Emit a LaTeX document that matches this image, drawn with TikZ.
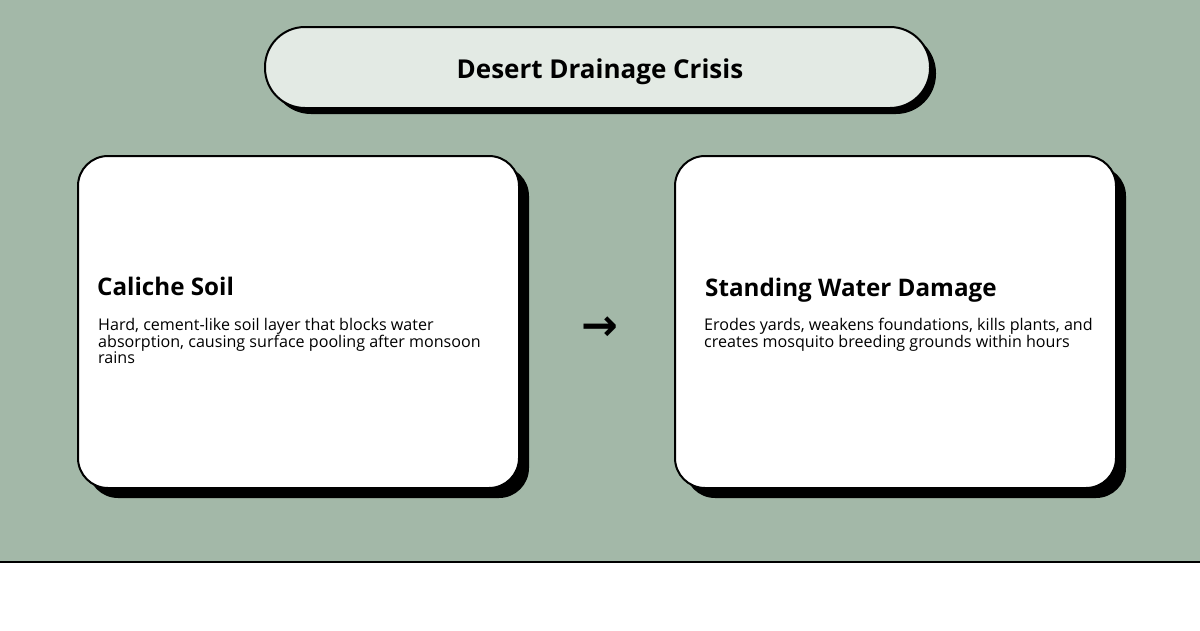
\documentclass[tikz,border=0pt]{standalone}
\usepackage{fontspec}
\setmainfont{Open Sans}
\newfontfamily\symf{DejaVu Sans}
\begin{document}
\begin{tikzpicture}[x=1pt,y=-1pt,
  card/.style={draw=black,line width=2pt,fill=white,rounded corners=30pt},
  shadow/.style={fill=black,rounded corners=30pt},
  head/.style={anchor=west,font=\bfseries\fontsize{24.2}{27}\selectfont,inner sep=0pt},
  body/.style={anchor=north west,align=left,font=\fontsize{16.1}{16}\selectfont,inner sep=0pt}]
\useasboundingbox (0,0) rectangle (1200,630);
\fill[fill={rgb,255:red,163;green,184;blue,168}] (0,0) rectangle (1200,562);
\draw[line width=1.5pt] (0,562) -- (1200,562);
% title
\fill[rounded corners=40pt] (271,33) rectangle (936,114);
\draw[line width=2pt,fill={rgb,255:red,227;green,234;blue,228},rounded corners=40pt] (265,27) rectangle (930,108);
\node[font=\bfseries\fontsize{26}{28}\selectfont] (title) at (600,72) {Desert Drainage Crisis};
% cards
\fill[shadow] (88,166) rectangle (529,498);
\draw[card] (78,156) rectangle (519,488);
\fill[shadow] (685,166) rectangle (1126,498);
\draw[card] (675,156) rectangle (1116,488);
\node[head] (h1) at (97,286) {Caliche Soil};
\node[body] (b1) at (98,318) {Hard, cement-like soil layer that blocks water\\absorption, causing surface pooling after monsoon\\rains};
\node[head] (h2) at (705,290) {Standing Water Damage};
\node[body] (b2) at (704,318) {Erodes yards, weakens foundations, kills plants, and\\creates mosquito breeding grounds within hours};
\node[font=\symf\bfseries\fontsize{44}{44}\selectfont] (arr) at (600,329) {→};
\end{tikzpicture}
\end{document}
